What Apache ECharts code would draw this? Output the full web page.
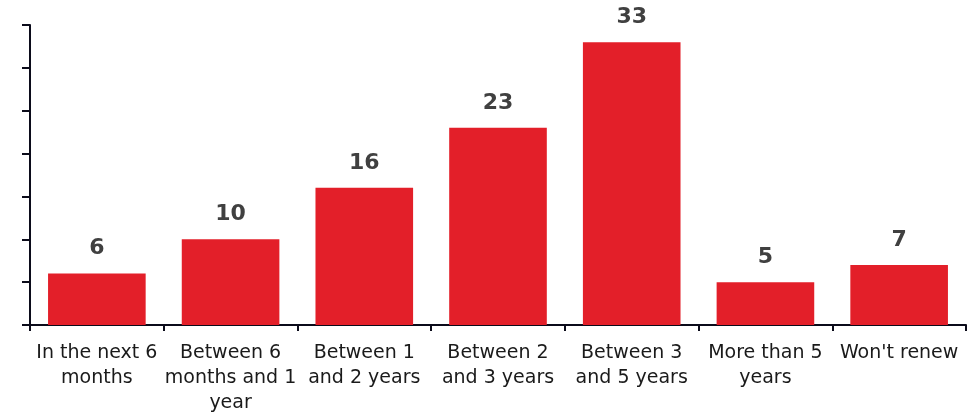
<!DOCTYPE html>
<html><head><meta charset="utf-8">
<script src="https://cdn.jsdelivr.net/npm/echarts@6/dist/echarts.min.js"></script>
<style>html,body{margin:0;padding:0;background:#fff}#c{width:972px;height:418px}</style>
</head><body><div id="c"></div>
<script>
const categories = ["In the next 6\nmonths","Between 6\nmonths and 1\nyear","Between 1\nand 2 years","Between 2\nand 3 years","Between 3\nand 5 years","More than 5\nyears","Won't renew"];
const values = [6,10,16,23,33,5,7];
const chart = echarts.init(document.getElementById('c'));
const FONT = '"DejaVu Sans", sans-serif';
chart.setOption({
  animation:false,
  grid:{left:30,right:6,top:25,bottom:93,containLabel:false},
  xAxis:{type:'category',data:categories,
    axisLine:{lineStyle:{color:'#0b0b1a',width:2}},
    axisTick:{show:true,length:6,lineStyle:{color:'#0b0b1a',width:2},alignWithLabel:false},
    axisLabel:{interval:0,color:'#1a1a1a',fontFamily:FONT,fontSize:19,lineHeight:25,margin:16}
  },
  yAxis:{type:'value',min:0,max:35,interval:5,
    axisLine:{show:true,lineStyle:{color:'#0b0b1a',width:2}},
    axisTick:{show:true,length:8,lineStyle:{color:'#0b0b1a',width:2}},
    axisLabel:{show:false},splitLine:{show:false}},
  series:[{type:'bar',data:values,barWidth:'73%',
    itemStyle:{color:'#E31F29'},
    label:{show:true,position:'top',distance:14,color:'#404040',fontFamily:FONT,fontWeight:'bold',fontSize:22}
  }]
});
</script></body></html>
